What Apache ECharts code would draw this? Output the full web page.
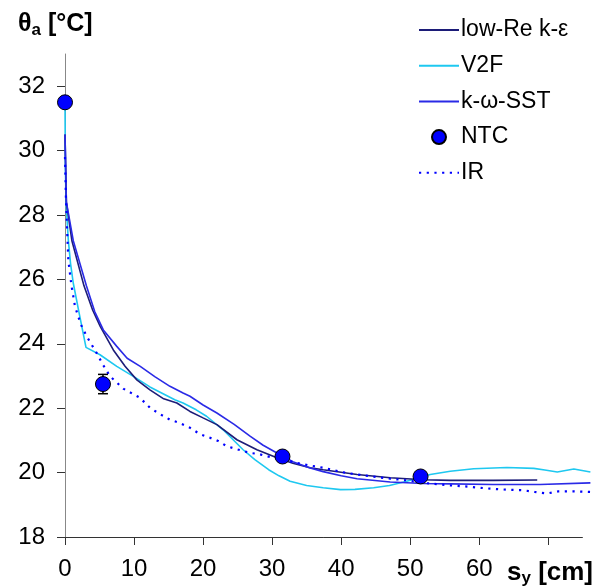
<!DOCTYPE html>
<html>
<head>
<meta charset="utf-8">
<script src="https://cdn.jsdelivr.net/npm/echarts@6/dist/echarts.min.js"></script>
<style>html,body{margin:0;padding:0;background:#fff}#c{width:608px;height:587px}</style>
</head>
<body>
<div id="c"></div>
<script>
// ---- data ----
const seriesNames = ['low-Re k-ε', 'V2F', 'k-ω-SST', 'NTC', 'IR'];
const xTicks = [0, 10, 20, 30, 40, 50, 60, 70];
const xLabels = [0, 10, 20, 30, 40, 50, 60];
const xAxisEnd = 75;
const yTicks = [18, 20, 22, 24, 26, 28, 30, 32];

const lowRe = [[0,30.5],[0.2,28.4],[1.0,27.2],[2.75,25.8],[4.0,25.05],[5.1,24.54],[7.0,23.81],[8.7,23.3],[10.4,22.88],[12.3,22.57],[14.3,22.29],[16.2,22.16],[18.1,21.9],[20,21.7],[22,21.49],[24.9,21.02],[27.8,20.71],[30.7,20.46],[33,20.29],[35.5,20.15],[37.4,20.09],[42.3,19.94],[47.1,19.84],[51.9,19.78],[55.8,19.76],[62,19.76],[68.4,19.77]];

const v2f = [[0,31.5],[0.05,29.5],[0.15,28.4],[0.48,27.22],[0.8,26.5],[1.2,25.88],[2.1,24.9],[3.04,23.89],[5.07,23.66],[7.5,23.3],[9.9,22.99],[12.3,22.66],[15.9,22.26],[17.1,22.16],[19,21.95],[20.5,21.75],[22.9,21.33],[25.8,20.71],[27.5,20.4],[29.5,20.09],[31,19.9],[32.6,19.73],[35,19.6],[37.4,19.53],[39.9,19.47],[42,19.48],[44.7,19.53],[47,19.6],[49.5,19.73],[52.9,19.94],[55.8,20.04],[59.2,20.12],[64,20.16],[67.9,20.13],[69.5,20.08],[71.3,20.02],[73.7,20.11],[76.1,20.02]];

const kwSST = [[0,30.5],[0.2,28.4],[1.2,27.2],[3.1,25.8],[4.3,25.0],[5.55,24.43],[7.5,23.92],[9,23.55],[10.9,23.3],[13,22.98],[15.2,22.68],[17.1,22.47],[18.1,22.37],[20,22.1],[22,21.85],[24.5,21.5],[26.8,21.13],[28.7,20.85],[30.7,20.61],[33,20.34],[35.5,20.14],[37.4,20.03],[40,19.9],[42.3,19.81],[47.1,19.71],[51.9,19.66],[55.8,19.65],[62,19.63],[68.8,19.63],[76.1,19.68]];

const ntc = [[0,31.5],[5.5,22.75],[31.5,20.5],[51.5,19.88]];
const ntcErr = [0, 0.3, 0, 0];

const ir = [[0,29.8],[0.15,28.4],[0.48,26.6],[0.92,25.83],[1.45,25.16],[2.3,24.6],[3.14,24.23],[4.59,23.71],[5.5,23.35],[6.52,22.99],[8.5,22.6],[10.87,22.32],[12.32,22.01],[13.5,21.85],[15.22,21.64],[16.5,21.55],[18.12,21.39],[19.5,21.2],[21.01,21.08],[22.2,20.98],[23.43,20.82],[25,20.72],[26.81,20.61],[28,20.58],[29.23,20.51],[31,20.42],[32.61,20.35],[33.58,20.3],[35.5,20.22],[37.43,20.15],[40,20.02],[42.28,19.94],[44.5,19.88],[47.1,19.81],[49.5,19.76],[51.93,19.68],[55.32,19.61],[58,19.57],[61.59,19.5],[64,19.47],[66.42,19.45],[68,19.4],[69.81,19.35],[71.5,19.42],[73.67,19.42],[76.09,19.4]];

// ---- chart ----
const FONT = "'Liberation Sans', Arial, sans-serif";
const chart = echarts.init(document.getElementById('c'), null, {renderer: 'canvas'});

const errData = ntc.map((p, i) => [p[0], p[1], ntcErr[i]]).filter(d => d[2] > 0);
const hideSym = {opacity: 0};

const option = {
  animation: false,
  backgroundColor: '#fff',
  textStyle: {fontFamily: FONT},
  title: [
    {
      text: '{b|θ}{s|a}{b| [°C]}',
      left: 13, top: 5,
      textStyle: {
        rich: {
          b: {fontFamily: FONT, fontWeight: 'bold', fontSize: 25, color: '#000'},
          s: {fontFamily: FONT, fontWeight: 'bold', fontSize: 17, color: '#000', padding: [12, 0, 0, 0]}
        }
      }
    },
    {
      text: '{b|s}{s|y}{b| [cm]}',
      left: 502, top: 553,
      textStyle: {
        rich: {
          b: {fontFamily: FONT, fontWeight: 'bold', fontSize: 26, color: '#000'},
          s: {fontFamily: FONT, fontWeight: 'bold', fontSize: 17, color: '#000', padding: [12, 0, 0, 0]}
        }
      }
    }
  ],
  legend: {
    orient: 'vertical',
    left: 413, top: 12,
    itemWidth: 40, itemHeight: 14,
    itemGap: 9.7,
    data: [
      {name: seriesNames[0], itemStyle: hideSym},
      {name: seriesNames[1], itemStyle: hideSym},
      {name: seriesNames[2], itemStyle: hideSym},
      {name: seriesNames[3]},
      {name: seriesNames[4], itemStyle: hideSym}
    ],
    textStyle: {fontFamily: FONT, fontSize: 23, color: '#000', lineHeight: 26, padding: [0, 0, 0, -3]}
  },
  grid: {left: 65, right: 17.6, top: 54, bottom: 50, containLabel: false},
  xAxis: {
    type: 'value', min: 0, max: 76.1, interval: 10,
    splitLine: {show: false},
    axisLine: {show: false},
    axisTick: {show: true, length: 8, customValues: xTicks, lineStyle: {color: '#333'}},
    axisLabel: {customValues: xLabels, margin: 20, fontSize: 24, color: '#000', fontFamily: FONT}
  },
  yAxis: {
    type: 'value', min: 18, max: 33, interval: 2,
    splitLine: {show: false},
    axisLine: {show: true, onZero: false, lineStyle: {color: '#888', width: 1}},
    axisTick: {show: true, length: 8, customValues: yTicks, lineStyle: {color: '#333'}},
    axisLabel: {customValues: yTicks, margin: 20, fontSize: 24, color: '#000', fontFamily: FONT}
  },
  series: [
    {name: seriesNames[0], type: 'line', data: lowRe, showSymbol: false, symbol: 'none', clip: false,
     lineStyle: {color: '#1c1c78', width: 1.6}, itemStyle: {color: '#1c1c78'}, z: 3},
    {name: seriesNames[1], type: 'line', data: v2f, showSymbol: false, symbol: 'none', clip: false,
     lineStyle: {color: '#1ec8f0', width: 1.6}, itemStyle: {color: '#1ec8f0'}, z: 2,
     markLine: {
       silent: true, symbol: 'none', animation: false,
       label: {show: false},
       lineStyle: {color: '#333', width: 1, type: 'solid'},
       emphasis: {disabled: true},
       data: [[{coord: [0, 18]}, {coord: [xAxisEnd, 18]}]]
     }},
    {name: seriesNames[2], type: 'line', data: kwSST, showSymbol: false, symbol: 'none', clip: false,
     lineStyle: {color: '#2a2ae6', width: 1.6}, itemStyle: {color: '#2a2ae6'}, z: 3},
    {name: seriesNames[3], type: 'scatter', data: ntc, symbol: 'circle', symbolSize: 15, clip: false,
     itemStyle: {color: '#0000ff', borderColor: '#000', borderWidth: 1, opacity: 1}, z: 6},
    {name: seriesNames[4], type: 'line', data: ir, showSymbol: false, symbol: 'none', clip: false,
     lineStyle: {color: '#0000ff', width: 2.2, type: [2.2, 5.5]}, itemStyle: {color: '#0000ff'}, z: 4},
    {name: 'err', type: 'custom', data: errData, z: 5, clip: false,
     renderItem: function (params, api) {
       const x = api.value(0), y = api.value(1), e = api.value(2);
       const t = api.coord([x, y + e]), b = api.coord([x, y - e]);
       const st = {stroke: '#000', lineWidth: 1.5};
       return {type: 'group', children: [
         {type: 'line', shape: {x1: t[0], y1: t[1], x2: b[0], y2: b[1]}, style: st},
         {type: 'line', shape: {x1: t[0] - 5, y1: t[1], x2: t[0] + 5, y2: t[1]}, style: st},
         {type: 'line', shape: {x1: b[0] - 5, y1: b[1], x2: b[0] + 5, y2: b[1]}, style: st}
       ]};
     }}
  ]
};
chart.setOption(option);
</script>
</body>
</html>
